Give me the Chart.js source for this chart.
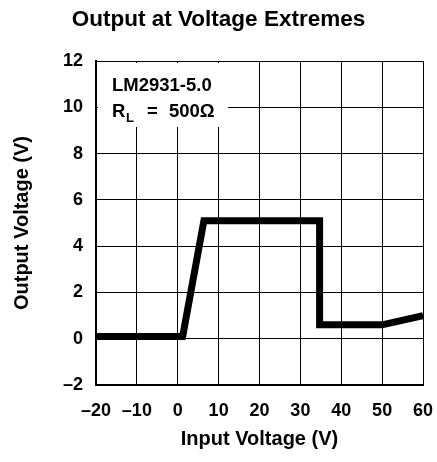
<!DOCTYPE html>
<html>
<head>
<meta charset="utf-8">
<script src="https://cdn.jsdelivr.net/npm/chart.js@4.4.0/dist/chart.umd.min.js"></script>
<style>
  html, body { margin: 0; padding: 0; background: #fff; }
  #wrap { width: 437px; height: 462px; }
</style>
</head>
<body>
<div id="wrap"><canvas id="grafico" width="437" height="462"></canvas></div>
<script>
// Datos
const inputVoltage = [-20, 1.2, 6.4, 34.7, 34.7, 50, 60];
const outputVoltage = [0.1, 0.1, 5.1, 5.1, 0.6, 0.6, 1.0];
const xTicks = [-20, -10, 0, 10, 20, 30, 40, 50, 60];
const yTicks = [-2, 0, 2, 4, 6, 8, 10, 12];

const FUENTE = "'Liberation Sans', Arial, sans-serif";

// Recuadro con la leyenda del dispositivo
const etiquetaPlugin = {
    id: 'etiqueta',
    beforeDatasetsDraw(chart) {
        const ctx = chart.ctx;
        const a = chart.chartArea;
        ctx.save();
        ctx.fillStyle = '#fff';
        ctx.fillRect(a.left + 2, a.top + 2, 130, 64);
        ctx.fillStyle = '#000';
        ctx.textBaseline = 'alphabetic';
        ctx.font = 'bold 18.5px ' + FUENTE;
        ctx.fillText('LM2931-5.0', a.left + 16, a.top + 30);
        ctx.fillText('R', a.left + 16, a.top + 56);
        ctx.font = 'bold 13px ' + FUENTE;
        ctx.fillText('L', a.left + 30, a.top + 61);
        ctx.font = 'bold 18.5px ' + FUENTE;
        ctx.fillText('=', a.left + 51, a.top + 56);
        ctx.fillText('500Ω', a.left + 73, a.top + 56);
        ctx.restore();
    }
};

new Chart(document.getElementById('grafico'), {
    type: 'line',
    data: {
        datasets: [{
            data: inputVoltage.map((x, i) => ({ x: x, y: outputVoltage[i] })),
            borderColor: '#000',
            borderWidth: 7,
            borderJoinStyle: 'miter',
            pointRadius: 0,
            tension: 0,
            fill: false
        }]
    },
    options: {
        responsive: false,
        animation: false,
        layout: { padding: 0 },
        plugins: {
            legend: { display: false },
            tooltip: { enabled: false },
            title: {
                display: true,
                text: 'Output at Voltage Extremes',
                color: '#000',
                font: { family: FUENTE, size: 22.5, weight: 'bold' },
                padding: { top: 6, bottom: 28 }
            }
        },
        scales: {
            x: {
                type: 'linear',
                min: -20,
                max: 60,
                afterBuildTicks: (s) => { s.ticks = xTicks.map(v => ({ value: v })); },
                afterFit: (s) => { s.height = 77; s.paddingLeft = 0; s.paddingRight = 14; },
                grid: { color: '#000', lineWidth: 1, drawTicks: false },
                border: { color: '#000', width: 2 },
                ticks: {
                    color: '#000',
                    padding: 15,
                    maxRotation: 0,
                    font: { family: FUENTE, size: 18, weight: 'bold' },
                    callback: (v) => String(v).replace('-', '–')
                },
                title: {
                    display: true,
                    text: 'Input Voltage (V)',
                    color: '#000',
                    font: { family: FUENTE, size: 20, weight: 'bold' },
                    padding: { top: 4, bottom: 11 }
                }
            },
            y: {
                type: 'linear',
                min: -2,
                max: 12,
                afterBuildTicks: (s) => { s.ticks = yTicks.map(v => ({ value: v })); },
                afterFit: (s) => { s.width = 96; },
                grid: { color: '#000', lineWidth: 1, drawTicks: false },
                border: { color: '#000', width: 2 },
                ticks: {
                    color: '#000',
                    padding: 13,
                    font: { family: FUENTE, size: 18, weight: 'bold' },
                    callback: (v) => String(v).replace('-', '–')
                },
                title: {
                    display: true,
                    text: 'Output Voltage (V)',
                    color: '#000',
                    font: { family: FUENTE, size: 20, weight: 'bold' },
                    padding: { top: 10, bottom: 0 }
                }
            }
        }
    },
    plugins: [etiquetaPlugin]
});
</script>
</body>
</html>
